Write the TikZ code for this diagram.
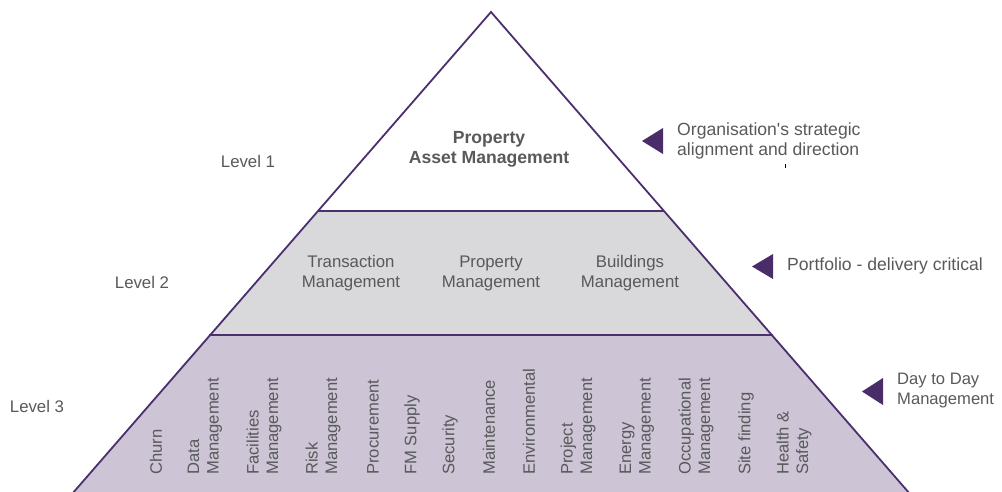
\documentclass[tikz,border=0pt]{standalone}
\usepackage{fontspec}
\setmainfont{Liberation Sans}
\definecolor{pline}{HTML}{4B2F6E}
\definecolor{pmark}{HTML}{4A2C69}
\definecolor{lvtwo}{HTML}{D9D8DA}
\definecolor{lvthree}{HTML}{CDC4D5}
\definecolor{txt}{HTML}{58595B}
\tikzset{
  lbl/.style={text=txt, font=\fontsize{16.8}{20}\selectfont, inner sep=0pt, align=center},
  side/.style={text=txt, font=\fontsize{17.6}{20}\selectfont, inner sep=0pt, align=left, anchor=west},
  vert/.style={text=txt, font=\fontsize{16.6}{19.5}\selectfont, inner sep=0pt, align=left, rotate=90, anchor=west},
  edge/.style={draw=pline, line width=1.8pt, line join=miter},
  marker/.style={fill=pmark}
}
\begin{document}
\begin{tikzpicture}[x=1pt,y=-1pt]
\useasboundingbox (0,0) rectangle (1002,491);
\begin{scope}
\clip (0,0) rectangle (1002,491);
% coordinates
\coordinate (apex) at (491,12);
\coordinate (l1L) at (318,211);
\coordinate (l1R) at (664,211);
\coordinate (l2L) at (209,335);
\coordinate (l2R) at (773,335);
\coordinate (l3L) at (72,494);
\coordinate (l3R) at (910,494);
% fills
\fill[white] (apex) -- (l1R) -- (l1L) -- cycle;
\fill[lvtwo] (l1L) -- (l1R) -- (l2R) -- (l2L) -- cycle;
\fill[lvthree] (l2L) -- (l2R) -- (l3R) -- (l3L) -- cycle;
% edges
\draw[edge] (l3L) -- (apex) -- (l3R);
\draw[edge] (l1L) -- (l1R);
\draw[edge] (l2L) -- (l2R);
\end{scope}
% level labels
\node[lbl] (lev1) at (248,161) {Level 1};
\node[lbl] (lev2) at (142,282) {Level 2};
\node[lbl] (lev3) at (37,406) {Level 3};
% level 1
\node[lbl, font=\bfseries\fontsize{17.6}{20}\selectfont] (pam) at (489,149) {Property\\Asset Management};
% level 2
\node[lbl] (tm) at (351,273) {Transaction\\Management};
\node[lbl] (pm) at (491,273.5) {Property\\Management};
\node[lbl] (bm) at (630,273) {Buildings\\Management};
% level 3
\node[vert] (churn) at (156,475) {Churn};
\node[vert] (datam) at (205,475) {Data\\Management};
\node[vert] (facm) at (264,475) {Facilities\\Management};
\node[vert] (riskm) at (323,475) {Risk\\Management};
\node[vert] (proc) at (373,475) {Procurement};
\node[vert] (fms) at (412,475) {FM Supply};
\node[vert] (sec) at (450,475) {Security};
\node[vert] (maint) at (489,475) {Maintenance};
\node[vert] (env) at (529,475) {Environmental};
\node[vert] (projm) at (578,475) {Project\\Management};
\node[vert] (enm) at (637,475) {Energy\\Management};
\node[vert] (occm) at (696,475) {Occupational\\Management};
\node[vert] (site) at (746,475) {Site finding};
\node[vert] (hs) at (794,475) {Health \&\\Safety};
% right markers
\fill[marker] (642,141) -- (663,128) -- (663,154) -- cycle;
\fill[marker] (752,266.5) -- (773,254) -- (773,279) -- cycle;
\fill[marker] (862,391.5) -- (883,378) -- (883,405) -- cycle;
\node[side] (r1) at (677,141) {Organisation\textquotesingle s strategic\\alignment and direction};
\node[side] (r2) at (787,266) {Portfolio - delivery critical};
\node[side, font=\fontsize{16.6}{20}\selectfont] (r3) at (897,391) {Day to Day\\Management};
% stray tick
\draw[black, line width=0.8pt] (785.5,164) -- (785.5,167.5);
\end{tikzpicture}
\end{document}
